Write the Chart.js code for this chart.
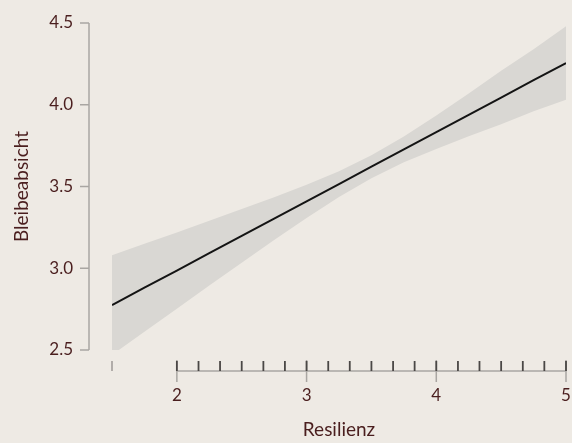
<!DOCTYPE html>
<html>
<head>
<meta charset="utf-8">
<script src="https://cdn.jsdelivr.net/npm/chart.js@4.4.0/dist/chart.umd.min.js"></script>
<style>
  html, body { margin: 0; padding: 0; background: #eeeae4; }
  #wrap { width: 572px; height: 443px; position: relative; }
</style>
</head>
<body>
<div id="wrap"><canvas id="chart"></canvas></div>
<script>
const resilienz = [1.5, 1.75, 2, 2.25, 2.5, 2.75, 3, 3.25, 3.5, 3.75, 4, 4.25, 4.5, 4.75, 5];
const fitted = [2.775, 2.881, 2.986, 3.092, 3.198, 3.304, 3.409, 3.515, 3.621,
  3.727, 3.832, 3.938, 4.044, 4.15, 4.255];
const upper = [3.08, 3.15, 3.219, 3.29, 3.362, 3.435, 3.511, 3.594, 3.691,
  3.806, 3.934, 4.069, 4.208, 4.34, 4.48];
const lower = [2.47, 2.612, 2.753, 2.894, 3.034, 3.173, 3.307, 3.436, 3.551,
  3.648, 3.73, 3.807, 3.88, 3.96, 4.03];

// observed Resilienz scores (rug)
const rug = [1.5, 2, 2.167, 2.333, 2.5, 2.667, 2.833, 3, 3.167, 3.333, 3.5,
  3.667, 3.833, 4, 4.167, 4.333, 4.5, 4.667, 4.833, 5];

const xTicks = [2, 3, 4, 5];
const yTicks = [2.5, 3.0, 3.5, 4.0, 4.5];

const textColor = "#4a1e1e";
const axisColor = "#a9a6a2";

const toPoints = (ys) => resilienz.map((x, i) => ({ x: x, y: ys[i] }));

// axis lines, tick marks and rug, placed with the chart's own scales
const axesPlugin = {
  id: "axes",
  afterDatasetsDraw(chart) {
    const { ctx, scales: { x, y } } = chart;
    ctx.save();
    ctx.lineWidth = 1.5;
    ctx.strokeStyle = axisColor;

    // y axis
    const ax = x.left - 23;
    ctx.beginPath();
    ctx.moveTo(ax, y.getPixelForValue(yTicks[yTicks.length - 1]));
    ctx.lineTo(ax, y.getPixelForValue(yTicks[0]));
    yTicks.forEach((v) => {
      const py = y.getPixelForValue(v);
      ctx.moveTo(ax - 9, py);
      ctx.lineTo(ax, py);
    });
    ctx.stroke();

    // x axis
    const ay = y.bottom + 21;
    ctx.beginPath();
    ctx.moveTo(x.getPixelForValue(xTicks[0]), ay);
    ctx.lineTo(x.getPixelForValue(xTicks[xTicks.length - 1]), ay);
    xTicks.forEach((v) => {
      const px = x.getPixelForValue(v);
      ctx.moveTo(px, ay - 11);
      ctx.lineTo(px, ay + 11);
    });
    ctx.stroke();

    // rug
    ctx.lineWidth = 1.8;
    rug.forEach((v) => {
      const px = x.getPixelForValue(v);
      ctx.strokeStyle = v < xTicks[0] ? "#aaa6a2" : "#4a4745";
      ctx.beginPath();
      ctx.moveTo(px, ay - 10);
      ctx.lineTo(px, ay);
      ctx.stroke();
    });
    ctx.restore();
  }
};

new Chart(document.getElementById("chart"), {
  type: "line",
  plugins: [axesPlugin],
  data: {
    datasets: [
      {
        data: toPoints(fitted),
        borderColor: "#141414",
        borderWidth: 2,
        pointRadius: 0,
        fill: false,
        order: 0
      },
      {
        data: toPoints(upper),
        borderWidth: 0,
        pointRadius: 0,
        backgroundColor: "#d9d7d3",
        fill: "+1",
        order: 1
      },
      {
        data: toPoints(lower),
        borderWidth: 0,
        pointRadius: 0,
        fill: false,
        order: 2
      }
    ]
  },
  options: {
    responsive: true,
    maintainAspectRatio: false,
    animation: false,
    layout: { padding: { top: 23, right: 6, left: 0, bottom: 0 } },
    plugins: {
      legend: { display: false },
      tooltip: { enabled: false }
    },
    scales: {
      x: {
        type: "linear",
        min: 1.5,
        max: 5,
        afterFit: (scale) => { scale.height = 93; },
        afterBuildTicks: (scale) => { scale.ticks = xTicks.map((v) => ({ value: v })); },
        grid: { display: false, drawTicks: true, tickLength: 35 },
        border: { display: false },
        ticks: {
          color: textColor,
          padding: 0,
          font: { family: "Lato", size: 17 }
        },
        title: {
          display: true,
          text: "Resilienz",
          color: textColor,
          font: { family: "Lato", size: 19 },
          padding: { top: 0, bottom: 2 }
        }
      },
      y: {
        type: "linear",
        min: 2.5,
        max: 4.5,
        afterFit: (scale) => { scale.width = 112; },
        afterBuildTicks: (scale) => { scale.ticks = yTicks.map((v) => ({ value: v })); },
        grid: { display: false, drawTicks: true, tickLength: 39 },
        border: { display: false },
        ticks: {
          color: textColor,
          padding: 0,
          font: { family: "Lato", size: 17 },
          callback: (v) => Number(v).toFixed(1)
        },
        title: {
          display: true,
          text: "Bleibeabsicht",
          color: textColor,
          font: { family: "Lato", size: 19 },
          padding: { top: 10, bottom: 0 }
        }
      }
    }
  }
});
</script>
</body>
</html>
